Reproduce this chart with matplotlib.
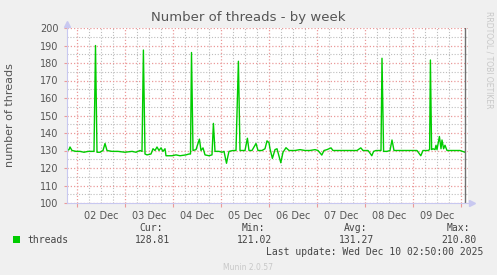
import numpy as np
import matplotlib
matplotlib.use("Agg")
import matplotlib.pyplot as plt

# hours since 2025-12-02 00:00
hours = [-5, -4, -3.5, -2.5, -0.5, 1.5, 3.5, 5.5, 7.5, 8.5, 9.25, 10, 11.5, 13, 14, 15,
         17.5, 20.5, 24, 27.5, 29.5, 31.5, 32.5, 33.2, 34, 35, 37, 38, 39, 40, 41, 42,
         43, 44, 44.5, 47.5, 49.5, 51.5, 54.5, 56, 56.75, 57.25, 58, 59.5, 61.2, 62, 63,
         64, 66, 67.5, 68.2, 69, 71, 72.5, 73.5, 74.75, 75.5, 76, 78, 79.5, 80.7, 81.5,
         84, 85.2, 86, 87.5, 89.5, 90.5, 92.5, 94, 95, 96, 96.5, 97.7, 99, 100, 101.9,
         103, 104.5, 106, 109, 111.5, 114, 116.5, 119, 120.5, 122.4, 123.5, 125, 127,
         128, 131.5, 136.5, 140, 141.9, 143, 145.5, 146.5, 147.4, 148.3, 149.5, 152,
         152.5, 153.3, 155, 156.5, 157.5, 158.5, 161.5, 166.5, 170, 171.9, 173, 175.5,
         176.3, 176.7, 177.3, 178, 179, 179.5, 180, 181.2, 182, 182.5, 183.3, 184, 185,
         186.5, 189, 191.5, 194]
threads = [130, 130.5, 132, 130, 129.5, 129.5, 129, 129.5, 129.5, 129.5, 190, 129, 129, 130, 134, 130,
           129.5, 129.5, 129, 129.5, 129, 130, 129.5, 187.4, 128, 127.5, 128, 131, 130, 132, 130, 131.5,
           129.5, 131, 127, 127, 127.5, 127, 127.5, 128, 128, 186, 130, 130.5, 136.5, 130, 131.5,
           127.5, 127, 127.5, 145.5, 129.5, 129.5, 129, 129.5, 122.7, 127, 129.5, 130, 130, 181, 130,
           130, 137, 130, 130, 134, 130, 130, 131, 135.5, 134.5, 131, 125.5, 130.5, 131, 123,
           129, 131.6, 130, 130, 130.5, 130, 130, 130.5, 130, 127.4, 130, 130.5, 131.5,
           130, 130, 130, 130, 131.5, 130, 130, 128.5, 127, 129.5, 130, 130,
           182.7, 129.5, 129.5, 130, 136, 130, 130, 130, 130, 127, 130, 130,
           130.5, 181.7, 130.5, 131, 130.5, 133, 130.5, 138, 131, 136, 131, 133, 130,
           130, 130, 130, 129]

day_labels = ["02 Dec", "03 Dec", "04 Dec", "05 Dec", "06 Dec", "07 Dec", "08 Dec", "09 Dec"]
stats_names = ["Cur:", "Min:", "Avg:", "Max:"]
stats_values = ["128.81", "121.02", "131.27", "210.80"]

W, H = 497, 275
fig = plt.figure(figsize=(W / 100, H / 100), dpi=100, facecolor="#f0f0f0")
ax = fig.add_axes([67 / W, 72 / H, 401 / W, 175 / H], facecolor="white")

ax.set_xlim(-5, 195.5)
ax.set_ylim(100, 200)

# grid: minor grey every 6h / 5 units, major red per day / 10 units
ax.set_xticks(np.arange(0, 195, 24))
ax.set_xticks(np.arange(-0, 195, 6), minor=True)
ax.set_yticks(np.arange(100, 201, 10))
ax.set_yticks(np.arange(105, 200, 10), minor=True)
ax.grid(which="minor", color="#bdbdbd", linestyle=(0, (1, 1.6)), linewidth=0.8)
ax.grid(which="major", color="#eb9a9a", linestyle=(0, (1, 1.6)), linewidth=0.9)
ax.set_axisbelow(True)

ax.set_xticklabels([])
for i, lab in enumerate(day_labels):
    ax.text(12 + 24 * i, 95.5, lab, ha="center", va="top", fontsize=7, color="#555555",
            clip_on=False)
ax.tick_params(axis="x", which="major", length=3, color="#eb9a9a")
ax.tick_params(axis="x", which="minor", length=0)
ax.tick_params(axis="y", which="major", length=2, color="#eb9a9a", labelsize=7,
               labelcolor="#555555", pad=4)
ax.tick_params(axis="y", which="minor", length=0)

for s in ["top", "right"]:
    ax.spines[s].set_visible(False)
for s in ["left", "bottom"]:
    ax.spines[s].set_color("#c8c8f0")
    ax.spines[s].set_linewidth(0.8)
ax.plot([0], [1.025], marker="^", color="#c8c8f0", markersize=4, transform=ax.transAxes, clip_on=False)
ax.plot([1.01], [0], marker=">", color="#c8c8f0", markersize=4, transform=ax.transAxes, clip_on=False)

ax.plot(hours, threads, color="#00cc00", linewidth=1.0)
ax.axvline(hours[-1], color="#707070", linewidth=1)

fig.text(248.5 / W, 1 - 18 / H, "Number of threads - by week", ha="center", va="center",
         fontsize=9.5, color="#555555")
fig.text(10 / W, 1 - 115 / H, "number of threads", ha="center", va="center", rotation=90,
         fontsize=8, color="#555555")
fig.text(489 / W, 1 - 60 / H, "RRDTOOL / TOBI OETIKER", ha="center", va="center", rotation=270,
         fontsize=5.5, color="#c8c8c8")

mono = "DejaVu Sans Mono"
fig.patches.append(plt.Rectangle((13 / W, 1 - 243 / H), 7 / W, 7 / H, transform=fig.transFigure,
                                 facecolor="#00cc00", edgecolor="none"))
fig.text(27 / W, 1 - 240 / H, "threads", ha="left", va="center", family=mono, fontsize=7, color="#444444")
col_right = [170, 272, 374, 477]
for name, val, xr in zip(stats_names, stats_values, col_right):
    fig.text((xr - 7) / W, 1 - 228 / H, name, ha="right", va="center", family=mono, fontsize=7, color="#444444")
    fig.text(xr / W, 1 - 240 / H, val, ha="right", va="center", family=mono, fontsize=7, color="#444444")
fig.text(483 / W, 1 - 252 / H, "Last update: Wed Dec 10 02:50:00 2025", ha="right", va="center",
         family=mono, fontsize=7, color="#444444")
fig.text(248 / W, 1 - 267 / H, "Munin 2.0.57", ha="center", va="center", fontsize=5.5, color="#c8c8c8")

fig.savefig("out.png", dpi=100, facecolor=fig.get_facecolor())
